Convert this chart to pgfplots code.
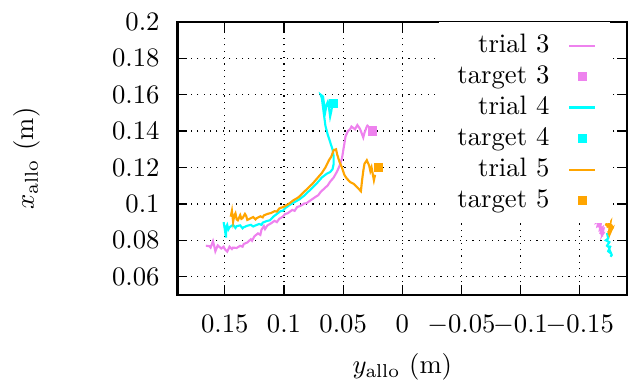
\documentclass[border=0pt]{standalone}
\usepackage{pgfplots}
\pgfplotsset{compat=1.18}
\definecolor{cviolet}{RGB}{238,130,238}
\definecolor{ccyan}{RGB}{0,255,255}
\definecolor{corange}{RGB}{255,165,0}
\begin{document}
\begin{tikzpicture}
\path[use as bounding box] (-66.56pt,-33pt) rectangle (169.3pt,110.6pt);
\begin{axis}[
  scale only axis,
  width=168.6pt, height=102.4pt,
  x dir=reverse,
  xmin=-0.19, xmax=0.19,
  ymin=0.05, ymax=0.2,
  xtick={-0.15,-0.1,-0.05,0,0.05,0.1,0.15},
  ytick={0.06,0.08,0.1,0.12,0.14,0.16,0.18,0.2},
  scaled ticks=false,
  xticklabel style={/pgf/number format/fixed,/pgf/number format/precision=2,yshift=-4pt},
  yticklabel style={/pgf/number format/fixed,/pgf/number format/precision=2,xshift=-3.2pt},
  axis line style={line width=0.85pt},
  major tick length=3.75pt,
  tick style={black, line width=0.45pt},
  grid=major,
  grid style={black, dotted, line width=0.45pt},
  xlabel={$y_{\mathrm{allo}}$ (m)},
  ylabel={$x_{\mathrm{allo}}$ (m)},
  every axis x label/.style={at={(axis description cs:0.5,0)}, anchor=center, yshift=-27pt},
  every axis y label/.style={at={(axis description cs:0,0.5)}, anchor=center, rotate=90, yshift=56.4pt},
  legend plot pos=right,
  legend style={at={(axis description cs:0.962,1)}, anchor=north east, draw=none, fill=white,
    cells={anchor=east}, row sep=-0.7pt, inner xsep=5pt, inner ysep=2.5pt,
    /tikz/every odd column/.append style={column sep=5pt}},
  trial/.style={line width=0.8pt, mark=none,
    legend image code/.code={\draw[##1] (0pt,0pt) -- (9.75pt,0pt);}},
  target/.style={only marks, mark=square*, mark size=1.55pt,
    legend image code/.code={\draw[##1] plot coordinates {(4.9pt,0pt)};}},
]
% trial 3
\addplot[trial, cviolet] coordinates {
(0.166,0.0770) (0.163,0.0768) (0.162,0.0760) (0.160,0.0795) (0.159,0.0770) (0.158,0.0740) (0.156,0.0772)
(0.153,0.0755) (0.151,0.0765) (0.150,0.0752) (0.148,0.0738) (0.146,0.0765) (0.144,0.0752) (0.143,0.0760)
(0.140,0.0758) (0.137,0.0770) (0.135,0.0765) (0.134,0.0780) (0.131,0.0788) (0.128,0.0806) (0.127,0.0798)
(0.125,0.0822) (0.122,0.0838) (0.120,0.0830) (0.119,0.0858) (0.117,0.0878) (0.116,0.0862) (0.114,0.0882)
(0.111,0.0893) (0.108,0.0907) (0.106,0.0900) (0.104,0.0918) (0.101,0.0930) (0.099,0.0945) (0.097,0.0948)
(0.093,0.0967) (0.091,0.0962) (0.089,0.0982) (0.085,0.0993) (0.083,0.1002) (0.081,0.1004) (0.077,0.1022)
(0.073,0.1040) (0.071,0.1048) (0.069,0.1066) (0.065,0.1090) (0.063,0.1102) (0.061,0.1122) (0.058,0.1145)
(0.055,0.1180) (0.053,0.1210) (0.051,0.1250) (0.050,0.1290) (0.049,0.1330)
(0.048,0.1370) (0.046,0.1400) (0.044,0.1412) (0.043,0.1425) (0.040,0.1410) (0.038,0.1433)
(0.036,0.1415) (0.035,0.1400) (0.033,0.1365) (0.032,0.1390) (0.030,0.1425) (0.029,0.1435)
};
\addlegendentry{trial 3}
\addplot[trial, cviolet, forget plot] coordinates {
(-0.163,0.095) (-0.165,0.092) (-0.164,0.090) (-0.166,0.091) (-0.165,0.088) (-0.167,0.089)
(-0.166,0.087) (-0.168,0.090) (-0.167,0.086) (-0.169,0.087) (-0.168,0.085) (-0.170,0.086)
(-0.169,0.083) (-0.170,0.084) (-0.168,0.084) (-0.169,0.082)
};
\addplot[target, cviolet] coordinates {(0.025,0.140)};
\addlegendentry{target 3}
% trial 4
\addplot[trial, ccyan] coordinates {
(0.151,0.0900) (0.150,0.0860) (0.149,0.0815) (0.149,0.0870) (0.148,0.0885) (0.147,0.0860) (0.146,0.0872)
(0.143,0.0885) (0.141,0.0868) (0.140,0.0878) (0.137,0.0882) (0.135,0.0866) (0.134,0.0872) (0.131,0.0880)
(0.128,0.0885) (0.126,0.0876) (0.124,0.0882) (0.121,0.0890) (0.119,0.0885) (0.118,0.0897) (0.115,0.0905)
(0.112,0.0910) (0.109,0.0930) (0.106,0.0945) (0.103,0.0960) (0.101,0.0962) (0.099,0.0977)
(0.095,0.0995) (0.091,0.1010) (0.087,0.1025) (0.083,0.1045) (0.079,0.1070)
(0.075,0.1095) (0.072,0.1115) (0.068,0.1145) (0.064,0.1165) (0.061,0.1175)
(0.059,0.1190) (0.058,0.1220) (0.058,0.1260) (0.059,0.1300) (0.061,0.1340)
(0.063,0.1380) (0.065,0.1430) (0.066,0.1480) (0.067,0.1530) (0.068,0.1580)
(0.069,0.1600) (0.067,0.1590) (0.066,0.1540) (0.065,0.1510) (0.064,0.1545)
(0.063,0.1560) (0.062,0.1530) (0.061,0.1480) (0.060,0.1510) (0.059,0.1550)
};
\addlegendentry{trial 4}
\addplot[trial, ccyan, forget plot] coordinates {
(-0.173,0.084) (-0.174,0.081) (-0.172,0.080) (-0.175,0.079) (-0.173,0.077) (-0.175,0.076)
(-0.176,0.077) (-0.174,0.074) (-0.176,0.073) (-0.175,0.075) (-0.177,0.072) (-0.176,0.071)
};
\addplot[target, ccyan] coordinates {(0.058,0.155)};
\addlegendentry{target 4}
% trial 5
\addplot[trial, corange] coordinates {
(0.145,0.0930) (0.144,0.0962) (0.143,0.0902) (0.142,0.0935) (0.141,0.0948) (0.140,0.0915) (0.139,0.0910)
(0.137,0.0938) (0.136,0.0918) (0.135,0.0922) (0.133,0.0945) (0.132,0.0935) (0.131,0.0912) (0.129,0.0918)
(0.126,0.0928) (0.124,0.0915) (0.123,0.0922) (0.120,0.0932) (0.118,0.0926) (0.117,0.0937) (0.114,0.0945)
(0.111,0.0950) (0.108,0.0960) (0.106,0.0958) (0.104,0.0975) (0.100,0.0985) (0.096,0.1000) (0.092,0.1020)
(0.088,0.1035) (0.084,0.1060) (0.080,0.1085) (0.076,0.1110) (0.072,0.1140)
(0.068,0.1170) (0.065,0.1200) (0.062,0.1240) (0.060,0.1260) (0.058,0.1295)
(0.056,0.1300) (0.055,0.1270) (0.053,0.1230) (0.051,0.1200) (0.049,0.1160)
(0.047,0.1140) (0.044,0.1120) (0.041,0.1110) (0.038,0.1090) (0.035,0.1070)
(0.034,0.1130) (0.033,0.1180) (0.032,0.1220) (0.030,0.1240) (0.028,0.1210)
(0.027,0.1180) (0.026,0.1200) (0.024,0.1130) (0.023,0.1160)
};
\addlegendentry{trial 5}
\addplot[trial, corange, forget plot] coordinates {
(-0.171,0.091) (-0.173,0.090) (-0.172,0.088) (-0.174,0.092) (-0.175,0.089) (-0.173,0.087)
(-0.176,0.090) (-0.175,0.086) (-0.177,0.088) (-0.178,0.087) (-0.176,0.085) (-0.174,0.084)
(-0.177,0.086) (-0.175,0.083) (-0.174,0.085)
};
\addplot[target, corange] coordinates {(0.020,0.120)};
\addlegendentry{target 5}
\end{axis}
\end{tikzpicture}
\end{document}
